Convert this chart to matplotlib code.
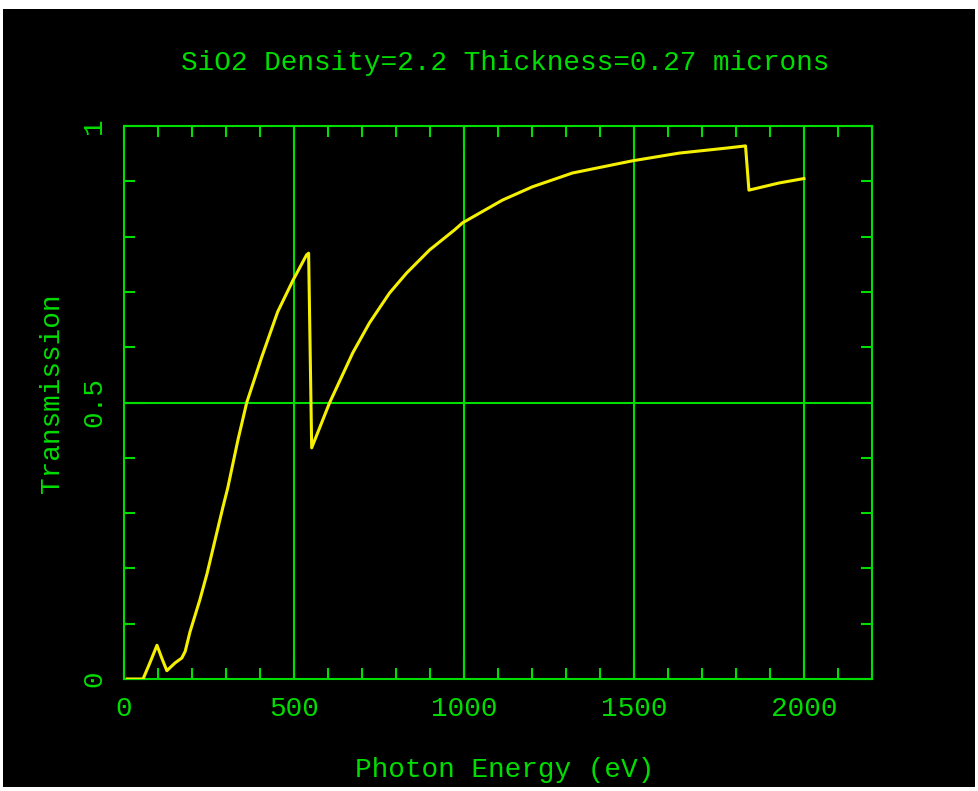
import matplotlib.pyplot as plt
from matplotlib.ticker import MultipleLocator
from matplotlib.patches import Rectangle

# transmission curve
energy = [10, 56, 76, 97, 111, 126, 150, 170, 180, 194, 223, 244, 291, 305,
          335, 361, 405, 452, 497, 537, 543, 552, 605, 673, 722, 781, 831,
          899, 972, 996, 1113, 1201, 1319, 1495, 1633, 1771, 1828, 1838,
          1927, 2000]
transmission = [0.0, 0.0, 0.029, 0.061, 0.038, 0.015, 0.029, 0.038, 0.050,
                0.085, 0.143, 0.19, 0.311, 0.345, 0.432, 0.5, 0.582, 0.664,
                0.721, 0.767, 0.770, 0.418, 0.5, 0.590, 0.644, 0.698, 0.734,
                0.776, 0.812, 0.825, 0.866, 0.890, 0.915, 0.937, 0.951, 0.960,
                0.964, 0.884, 0.897, 0.905]

x_major = [0, 500, 1000, 1500, 2000]
x_labels = ["0", "500", "1000", "1500", "2000"]
y_major = [0, 0.5, 1]
y_labels = ["0", "0.5", "1"]

green = "#00dd00"
yellow = "#f5f000"
W, H = 979, 791

plt.rcParams["font.family"] = ["Liberation Mono", "DejaVu Sans Mono"]

fig = plt.figure(figsize=(W / 100, H / 100), dpi=100, facecolor="white")
fig.patches.append(Rectangle((3 / W, 1 - 787 / H), 972 / W, 778 / H,
                             transform=fig.transFigure, facecolor="black",
                             edgecolor="none", zorder=-10))

ax = fig.add_axes([124 / W, 1 - 679 / H, 748 / W, 553 / H])
ax.set_zorder(5)
ax.set_facecolor("black")

ax.plot(energy, transmission, color=yellow, lw=2.2, zorder=3)

ax.set_xlim(0, 2200)
ax.set_ylim(0, 1)

ax.set_xticks(x_major)
ax.set_xticklabels(x_labels)
ax.set_yticks(y_major)
ax.set_yticklabels(y_labels, rotation=90, va="center")
ax.xaxis.set_minor_locator(MultipleLocator(100))
ax.yaxis.set_minor_locator(MultipleLocator(0.1))

ax.tick_params(which="both", direction="in", top=True, right=True,
               color=green, labelcolor=green, labelsize=20, width=1.5)
ax.tick_params(which="major", length=16)
ax.tick_params(which="minor", length=8)
ax.tick_params(axis="x", pad=12)
ax.tick_params(axis="y", pad=12)

for spine in ax.spines.values():
    spine.set_color(green)
    spine.set_linewidth(1.5)

for xv in x_major[1:]:
    ax.axvline(xv, color=green, lw=1.5, zorder=2)
ax.axhline(0.5, color=green, lw=1.5, zorder=2)

fig.text(505 / W, 1 - 70 / H, "SiO2 Density=2.2 Thickness=0.27 microns",
         color=green, fontsize=20, ha="center", va="baseline")
fig.text(505 / W, 1 - 777 / H, "Photon Energy (eV)",
         color=green, fontsize=20, ha="center", va="baseline")
fig.text(52 / W, 1 - 393 / H, "Transmission", color=green, fontsize=20,
         ha="center", va="center", rotation=90)

fig.savefig("out.png", dpi=100, facecolor=fig.get_facecolor())
